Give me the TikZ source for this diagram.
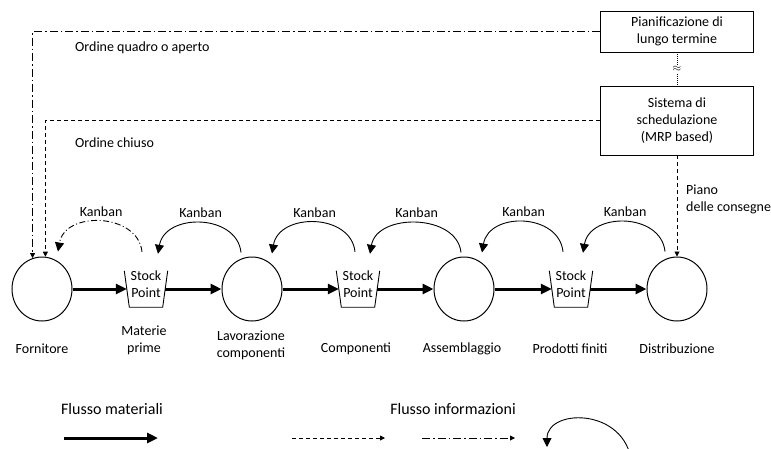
\documentclass[tikz,border=0pt]{standalone}
\usepackage{fontspec}
\setmainfont{Carlito}
\usetikzlibrary{arrows.meta,shapes.geometric}
\begin{document}
\begin{tikzpicture}[x=1pt,y=-1pt,
  every node/.style={font=\fontsize{14}{17}\selectfont, inner sep=0pt},
  station/.style={draw, line width=1pt, ellipse, minimum width=60pt, minimum height=64pt},
  stockpt/.style={minimum width=43pt, minimum height=36pt},
  box/.style={draw, line width=0.9pt, minimum width=153pt, align=center},
  caption/.style={align=center},
  legendtext/.style={font=\fontsize{16}{19}\selectfont},
  mat/.style={line width=3pt, -{Triangle[length=11pt,width=10pt]}},
  kanban/.style={line width=0.9pt, -{Triangle[length=9pt,width=9pt]}},
  kanbandd/.style={kanban, dash pattern=on 6pt off 2.5pt on 1pt off 2.5pt},
  info/.style={line width=0.9pt, dash pattern=on 4pt off 3pt, -{Triangle[length=5pt,width=5pt]}},
  infodd/.style={line width=0.9pt, dash pattern=on 8pt off 3pt on 1.5pt off 3pt, -{Triangle[length=5pt,width=5pt]}},
  dottedlink/.style={line width=0.8pt, dash pattern=on 1pt off 1pt},
]
\useasboundingbox (0,0) rectangle (771,448);
\clip (0,0) rectangle (771,448);

% planning boxes
\node[box, minimum height=41pt] (plan) at (677,31.5) {Pianificazione di\\lungo termine};
\node[box, minimum height=69pt] (sched) at (677,120.5) {Sistema di\\schedulazione\\(MRP based)};
\draw[dottedlink] (plan) -- node[fill=white, inner sep=1pt, font=\fontsize{11}{11}\selectfont] (approx) {$\approx$} (sched);

% stations of the chain
\node[station] (forn) at (42,289) {};
\node[station] (lav)  at (252,289) {};
\node[station] (ass)  at (464,289) {};
\node[station] (dist) at (677,289) {};

% stock points
\foreach \s/\x in {sp1/146, sp2/358, sp3/571}{
  \node[stockpt, label={[name=\s t, align=center, yshift=4.5pt]center:Stock\\Point}] (\s) at (\x,289) {};
  \draw[line width=0.9pt] (\s.north west) -- ([xshift=5pt]\s.south west)
    -- ([xshift=-5pt]\s.south east) -- (\s.north east);
}

% material flow
\draw[mat] (forn) -- ([xshift=2.5pt]sp1.west);
\draw[mat] ([xshift=-2.5pt]sp1.east) -- (lav);
\draw[mat] (lav) -- ([xshift=2.5pt]sp2.west);
\draw[mat] ([xshift=-2.5pt]sp2.east) -- (ass);
\draw[mat] (ass) -- ([xshift=2.5pt]sp3.west);
\draw[mat] ([xshift=-2.5pt]sp3.east) -- (dist);

% kanban loops
\draw[kanbandd] ([shift={(-4,-19)}]sp1.north) .. controls +(-4,-39) and +(7,-41) .. ([shift={(16,-5)}]forn.north)
  node[midway, above=5pt] (k1) {Kanban};
\draw[kanban] ([shift={(-11,-4)}]lav.north) .. controls +(-4,-39) and +(7,-41) .. ([shift={(12,-17)}]sp1.north)
  node[midway, above=5pt] (k2) {Kanban};
\draw[kanban] ([shift={(-3,-19)}]sp2.north) .. controls +(-4,-39) and +(7,-41) .. ([shift={(20,-3)}]lav.north)
  node[midway, above=5pt] (k3) {Kanban};
\draw[kanban] ([shift={(-3,-4)}]ass.north) .. controls +(-4,-39) and +(7,-41) .. ([shift={(12,-17)}]sp2.north)
  node[midway, above=5pt] (k4) {Kanban};
\draw[kanban] ([shift={(-8,-19)}]sp3.north) .. controls +(-4,-39) and +(7,-41) .. ([shift={(18,-4)}]ass.north)
  node[midway, above=5pt] (k5) {Kanban};
\draw[kanban] ([shift={(-12,-5)}]dist.north) .. controls +(-4,-39) and +(7,-41) .. ([shift={(12,-18)}]sp3.north)
  node[midway, above=5pt] (k6) {Kanban};

% orders from planning
\draw[infodd] (plan.west) -| (forn.107);
\draw[info] (sched.west) -| (forn.84);
\draw[info] (sched) -- (dist);
\node[anchor=west] (oq) at (75,48) {Ordine quadro o aperto};
\node[anchor=west] (oc) at (75,143) {Ordine chiuso};
\node[anchor=west, align=left] (piano) at (686,199) {Piano\\delle consegne};

% captions
\node[caption] (cforn) at (42,349) {Fornitore};
\node[caption] (csp1) at (144,340.5) {Materie\\prime};
\node[caption] (clav) at (251,345) {Lavorazione\\componenti};
\node[caption] (csp2) at (356,349) {Componenti};
\node[caption] (cass) at (462,349) {Assemblaggio};
\node[caption] (csp3) at (570,349) {Prodotti finiti};
\node[caption] (cdist) at (677,349) {Distribuzione};

% legend
\node[legendtext] (lm) at (112,409) {Flusso materiali};
\node[legendtext] (li) at (453,409) {Flusso informazioni};
\coordinate (m1) at (64,438);  \coordinate (m2) at (158,438);
\coordinate (d1) at (292,438); \coordinate (d2) at (385,438);
\coordinate (e1) at (422,438); \coordinate (e2) at (515,438);
\coordinate (c1) at (632,470); \coordinate (c2) at (547,447);
\draw[mat] (m1) -- (m2);
\draw[info] (d1) -- (d2);
\draw[infodd] (e1) -- (e2);
\draw[kanban] (c1) .. controls +(0,-63) and +(0,-40) .. (c2);
\end{tikzpicture}
\end{document}
